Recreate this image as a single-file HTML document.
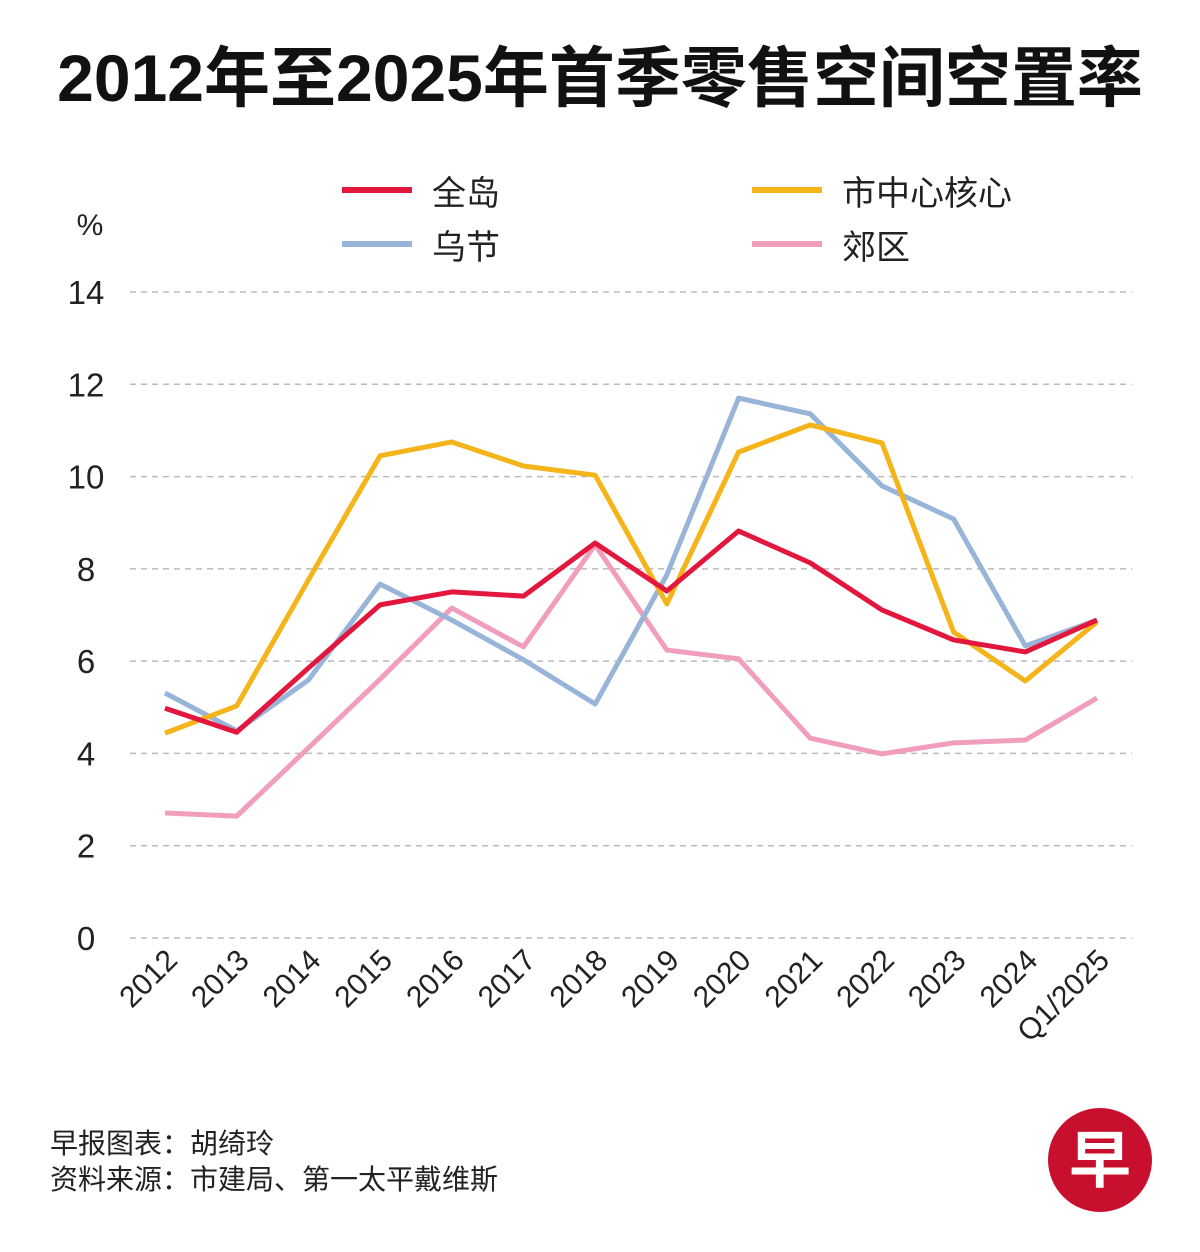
<!DOCTYPE html>
<html><head><meta charset="utf-8">
<style>
body{margin:0;background:#fff;}
svg text{font-family:"Liberation Sans","Noto Sans CJK SC",sans-serif;}
</style></head>
<body>
<svg id="chart" width="1200" height="1247" viewBox="0 0 1200 1247" xmlns="http://www.w3.org/2000/svg">
<rect width="1200" height="1247" fill="#fff"/>
<text x="600" y="101" text-anchor="middle" font-size="66" font-weight="bold" fill="#111">2012年至2025年首季零售空间空置率</text>
<text x="90" y="235" text-anchor="middle" font-size="30" fill="#222">%</text>
<g id="legend">
<g><line x1="342" y1="190" x2="412" y2="190" stroke="#e3173e" stroke-width="6"/><text x="432" y="205" font-size="34" fill="#222">全岛</text></g>
<g><line x1="752" y1="190" x2="822" y2="190" stroke="#f4b41a" stroke-width="6"/><text x="842" y="205" font-size="34" fill="#222">市中心核心</text></g>
<g><line x1="342" y1="244" x2="412" y2="244" stroke="#98b4d8" stroke-width="6"/><text x="432" y="259" font-size="34" fill="#222">乌节</text></g>
<g><line x1="752" y1="244" x2="822" y2="244" stroke="#f09ebc" stroke-width="6"/><text x="842" y="259" font-size="34" fill="#222">郊区</text></g>
</g>
<g id="grid"></g><g id="yticks"></g><g id="xticks"></g><g id="lines"></g>
<text x="50" y="1153" font-size="28" fill="#222">早报图表：胡绮玲</text>
<text x="50" y="1189" font-size="28" fill="#222">资料来源：市建局、第一太平戴维斯</text>
<g>
<circle cx="1100" cy="1160" r="52" fill="#c8102e"/>
<text x="1100" y="1182" text-anchor="middle" font-size="62" font-weight="bold" fill="#fff">早</text>
</g>
</svg>
<script>
const categories=["2012","2013","2014","2015","2016","2017","2018","2019","2020","2021","2022","2023","2024","Q1/2025"];
const islandwide=[4.98,4.46,5.85,7.22,7.5,7.41,8.56,7.52,8.82,8.13,7.11,6.46,6.2,6.89];
const cityCore=[4.44,5.03,7.76,10.45,10.75,10.23,10.03,7.24,10.53,11.12,10.73,6.63,5.57,6.85];
const orchard=[5.31,4.49,5.59,7.67,6.89,6.03,5.07,7.87,11.7,11.36,9.8,9.08,6.33,6.89];
const suburban=[2.71,2.64,4.12,5.61,7.15,6.31,8.52,6.24,6.05,4.33,3.99,4.23,4.29,5.2];
const yTicks=[0,2,4,6,8,10,12,14];
const NS="http://www.w3.org/2000/svg";
const x=i=>165+i*(1097-165)/(categories.length-1);
const y=v=>938-v*(938-292)/14;
function mk(tag,attrs,parent){const e=document.createElementNS(NS,tag);for(const k in attrs)e.setAttribute(k,attrs[k]);document.getElementById(parent).appendChild(e);return e;}
yTicks.forEach(t=>{
 const g=mk('line',{x1:130,x2:1132,y1:y(t),y2:y(t),stroke:'#bbb','stroke-width':1.5,'stroke-dasharray':'6 5'},'grid');
 
 
 const tx=mk('text',{x:86,y:y(t)+12,'text-anchor':'middle','font-size':33,fill:'#222'},'yticks');
 tx.textContent=t;
 
 
});
categories.forEach((c,i)=>{
 const tx=mk('text',{x:x(i)+14,y:962,'text-anchor':'end','font-size':30,fill:'#222',transform:`rotate(-45 ${x(i)+14} 962)`},'xticks');
 tx.textContent=c;
 
 
});
[[suburban,'#f09ebc','line-suburban'],[orchard,'#98b4d8','line-orchard'],[cityCore,'#f4b41a','line-city-core'],[islandwide,'#e3173e','line-islandwide']].forEach(([d,col,n])=>{
 const p=mk('polyline',{points:d.map((v,i)=>x(i)+','+y(v)).join(' '),fill:'none',stroke:col,'stroke-width':5,'stroke-linejoin':'round'},'lines');
 
 
});
</script>
</body></html>
